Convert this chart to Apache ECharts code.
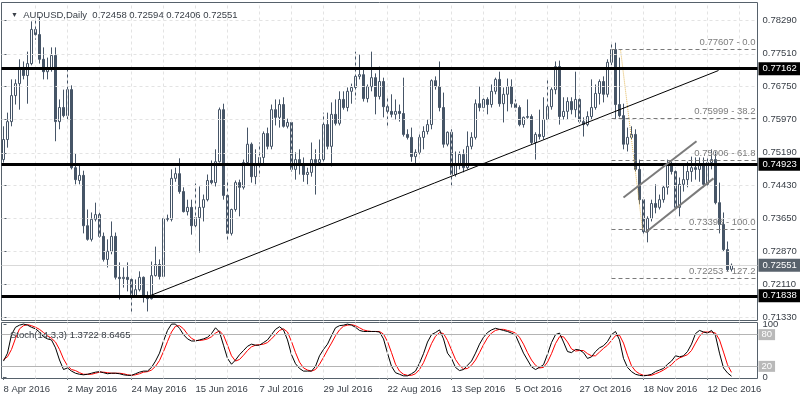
<!DOCTYPE html>
<html><head><meta charset="utf-8">
<script src="https://cdn.jsdelivr.net/npm/echarts@6/dist/echarts.min.js"></script>
<style>html,body{margin:0;padding:0;background:#fff}#c{width:800px;height:400px}</style>
</head><body><div id="c"></div>
<script>
// ---------- data ----------
const totalSlots = 189; // trading-day slots on the time axis (incl. empty space at right)
const tickLabels = ['8 Apr 2016','2 May 2016','24 May 2016','15 Jun 2016','7 Jul 2016','29 Jul 2016','22 Aug 2016','13 Sep 2016','5 Oct 2016','27 Oct 2016','18 Nov 2016','12 Dec 2016'];
const priceTicks = [0.71330,0.72110,0.72870,0.73650,0.74430,0.75190,0.75970,0.76750,0.77510,0.78290];

const opens = [0.7503,0.7550,0.7592,0.7653,0.7681,0.7719,0.7700,0.7728,0.7808,0.7796,0.7738,0.7709,0.7714,0.7747,0.7592,0.7625,0.7606,0.7667,0.7484,0.7454,
0.7466,0.7348,0.7316,0.7363,0.7374,0.7323,0.7269,0.7288,0.7323,0.7227,0.7224,0.7227,0.7222,0.7182,0.7198,0.7227,0.7182,0.7177,0.7231,0.7257,
0.7229,0.7365,0.7363,0.7459,0.7470,0.7428,0.7381,0.7391,0.7348,0.7367,0.7391,0.7409,0.7454,0.7449,0.7498,0.7620,0.7419,0.7330,0.7386,0.7449,
0.7438,0.7496,0.7539,0.7463,0.7489,0.7508,0.7564,0.7534,0.7620,0.7602,0.7632,0.7581,0.7590,0.7480,0.7503,0.7489,0.7468,0.7473,0.7503,0.7496,
0.7503,0.7585,0.7534,0.7609,0.7588,0.7644,0.7625,0.7663,0.7672,0.7698,0.7702,0.7646,0.7674,0.7695,0.7651,0.7686,0.7627,0.7616,0.7609,0.7616,
0.7611,0.7562,0.7555,0.7510,0.7520,0.7555,0.7569,0.7585,0.7688,0.7674,0.7625,0.7539,0.7567,0.7468,0.7491,0.7515,0.7484,0.7534,0.7555,0.7634,
0.7625,0.7644,0.7632,0.7663,0.7691,0.7634,0.7656,0.7674,0.7634,0.7625,0.7585,0.7602,0.7604,0.7543,0.7562,0.7557,0.7597,0.7627,0.7667,0.7721,
0.7604,0.7616,0.7639,0.7620,0.7644,0.7592,0.7585,0.7604,0.7625,0.7658,0.7686,0.7656,0.7731,0.7761,0.7632,0.7606,0.7539,0.7555,0.7562,0.7480,
0.7409,0.7334,0.7365,0.7400,0.7391,0.7409,0.7438,0.7491,0.7475,0.7391,0.7445,0.7456,0.7475,0.7484,0.7480,0.7491,0.7445,0.7496,0.7503,0.7402,
0.7351,0.7292,0.72458];
const highs = [0.7581,0.7613,0.7691,0.7691,0.7738,0.7733,0.7756,0.7827,0.7829,0.7838,0.7766,0.7742,0.7766,0.7766,0.7644,0.7667,0.7719,0.7677,0.7517,0.7491,
0.7477,0.7386,0.7379,0.7402,0.7379,0.7332,0.7316,0.7358,0.7332,0.7262,0.7250,0.7262,0.7229,0.7222,0.7241,0.7229,0.7194,0.7264,0.7299,0.7269,
0.7367,0.7374,0.7480,0.7484,0.7506,0.7438,0.7409,0.7409,0.7447,0.7440,0.7421,0.7468,0.7501,0.7527,0.7625,0.7634,0.7456,0.7388,0.7454,0.7456,
0.7503,0.7578,0.7543,0.7527,0.7543,0.7569,0.7578,0.7632,0.7644,0.7644,0.7649,0.7599,0.7595,0.7520,0.7527,0.7508,0.7484,0.7543,0.7527,0.7550,
0.7613,0.7613,0.7637,0.7644,0.7663,0.7663,0.7672,0.7681,0.7756,0.7749,0.7714,0.7679,0.7756,0.7705,0.7721,0.7695,0.7649,0.7656,0.7644,0.7632,
0.7695,0.7574,0.7578,0.7527,0.7567,0.7581,0.7597,0.7691,0.7698,0.7733,0.7660,0.7569,0.7574,0.7522,0.7522,0.7527,0.7569,0.7567,0.7644,0.7674,
0.7653,0.7649,0.7679,0.7695,0.7709,0.7672,0.7693,0.7691,0.7644,0.7630,0.7604,0.7644,0.7609,0.7567,0.7620,0.7649,0.7693,0.7672,0.7733,0.7735,
0.7649,0.7649,0.7649,0.7709,0.7653,0.7602,0.7616,0.7691,0.7679,0.7691,0.7698,0.7738,0.7777,0.7777,0.7742,0.7634,0.7578,0.7581,0.7574,0.7503,
0.7414,0.7370,0.7409,0.7445,0.7421,0.7442,0.7503,0.7498,0.7484,0.7461,0.7491,0.7498,0.7510,0.7508,0.7508,0.7508,0.7508,0.7527,0.7522,0.7449,
0.7379,0.7311,0.72594];
const lows = [0.7496,0.7531,0.7581,0.7632,0.7620,0.7691,0.7634,0.7724,0.7784,0.7728,0.7691,0.7691,0.7709,0.7546,0.7574,0.7602,0.7597,0.7480,0.7445,0.7445,
0.7330,0.7313,0.7311,0.7358,0.7320,0.7264,0.7250,0.7281,0.7222,0.7175,0.7203,0.7194,0.7145,0.7180,0.7194,0.7168,0.7147,0.7175,0.7229,0.7222,
0.7227,0.7358,0.7358,0.7451,0.7423,0.7379,0.7372,0.7327,0.7344,0.7285,0.7358,0.7405,0.7445,0.7440,0.7496,0.7409,0.7309,0.7325,0.7381,0.7370,
0.7433,0.7491,0.7449,0.7445,0.7463,0.7491,0.7527,0.7527,0.7583,0.7578,0.7578,0.7576,0.7475,0.7456,0.7468,0.7451,0.7445,0.7463,0.7421,0.7489,
0.7496,0.7527,0.7487,0.7583,0.7583,0.7620,0.7616,0.7634,0.7644,0.7691,0.7639,0.7637,0.7663,0.7609,0.7644,0.7602,0.7581,0.7602,0.7597,0.7592,
0.7557,0.7550,0.7498,0.7491,0.7515,0.7527,0.7562,0.7574,0.7667,0.7616,0.7531,0.7534,0.7440,0.7463,0.7480,0.7473,0.7480,0.7527,0.7550,0.7616,
0.7616,0.7609,0.7625,0.7656,0.7627,0.7590,0.7616,0.7625,0.7616,0.7581,0.7578,0.7599,0.7539,0.7503,0.7550,0.7550,0.7592,0.7620,0.7656,0.7585,
0.7597,0.7597,0.7609,0.7602,0.7588,0.7557,0.7581,0.7597,0.7620,0.7632,0.7637,0.7649,0.7724,0.7597,0.7602,0.7527,0.7522,0.7550,0.7475,0.7398,
0.7327,0.7309,0.7358,0.7377,0.7386,0.7402,0.7421,0.7468,0.7386,0.7370,0.7428,0.7438,0.7451,0.7456,0.7451,0.7438,0.7440,0.7480,0.7398,0.7330,
0.7288,0.7241,0.72406];
const closes = [0.7550,0.7592,0.7653,0.7681,0.7719,0.7700,0.7728,0.7808,0.7796,0.7738,0.7709,0.7714,0.7747,0.7592,0.7625,0.7606,0.7667,0.7484,0.7456,0.7466,
0.7348,0.7316,0.7363,0.7374,0.7323,0.7269,0.7288,0.7323,0.7227,0.7224,0.7227,0.7222,0.7182,0.7198,0.7227,0.7182,0.7177,0.7231,0.7257,0.7229,
0.7365,0.7363,0.7459,0.7470,0.7428,0.7381,0.7391,0.7348,0.7367,0.7391,0.7409,0.7454,0.7449,0.7498,0.7620,0.7419,0.7330,0.7386,0.7449,0.7438,
0.7496,0.7539,0.7463,0.7489,0.7508,0.7564,0.7534,0.7620,0.7602,0.7632,0.7581,0.7590,0.7480,0.7503,0.7489,0.7468,0.7473,0.7503,0.7496,0.7503,
0.7585,0.7534,0.7609,0.7588,0.7644,0.7625,0.7663,0.7672,0.7698,0.7702,0.7646,0.7674,0.7695,0.7651,0.7686,0.7627,0.7616,0.7609,0.7616,0.7611,
0.7562,0.7555,0.7510,0.7520,0.7555,0.7569,0.7585,0.7688,0.7674,0.7625,0.7539,0.7567,0.7468,0.7491,0.7515,0.7484,0.7534,0.7555,0.7634,0.7625,
0.7644,0.7632,0.7663,0.7691,0.7634,0.7656,0.7674,0.7634,0.7625,0.7585,0.7602,0.7604,0.7543,0.7562,0.7557,0.7597,0.7627,0.7667,0.7721,0.7604,
0.7616,0.7639,0.7620,0.7644,0.7592,0.7585,0.7604,0.7625,0.7658,0.7686,0.7656,0.7731,0.7761,0.7632,0.7606,0.7539,0.7555,0.7562,0.7480,0.7409,
0.7334,0.7365,0.7400,0.7391,0.7409,0.7438,0.7491,0.7475,0.7391,0.7445,0.7456,0.7475,0.7484,0.7480,0.7491,0.7445,0.7496,0.7503,0.7402,0.7351,
0.7292,0.7245,0.72551];

const stochK = [30,45,80,94,98,100,98,94,91,85,76,72,70,55,32,14,17,11,7,5,4,5,7,9,10,8,6,7,7,6,4,3,3,6,9,11,11,18,30,45,
68,88,100,100,92,80,72,68,68,70,72,75,82,93,85,60,35,24,32,42,50,58,62,60,60,65,70,80,90,95,89,70,42,25,16,11,11,11,20,40,
52,62,78,93,97,98,100,98,94,88,86,86,86,86,85,72,45,20,8,5,2,2,6,11,26,44,66,80,84,89,72,45,35,18,12,14,22,30,45,62,
75,84,89,92,90,88,86,83,79,62,45,32,19,14,18,23,43,65,80,83,66,48,46,52,51,46,35,38,48,55,59,67,80,86,70,35,18,10,5,3,
2,3,5,10,13,16,24,30,40,38,40,48,62,82,88,85,83,88,78,45,17,7.6,1.3722];
const stochD = [33,38,52,73,91,97,99,97,94,90,84,78,73,66,52,34,21,14,12,8,5,5,5,7,9,9,8,7,7,7,6,4,3,4,6,9,10,13,20,31,
48,67,85,96,97,91,81,73,69,69,70,72,76,83,87,79,60,40,30,33,41,50,57,60,61,62,65,72,80,88,91,85,67,46,28,17,13,11,14,24,
37,51,64,78,89,96,98,99,97,93,89,87,86,86,86,81,67,46,24,11,5,3,3,6,14,27,45,63,77,84,82,69,51,33,22,15,16,22,32,46,
61,74,83,88,90,90,88,86,83,75,62,46,32,22,17,18,28,44,63,76,76,66,53,49,50,50,44,40,40,47,54,60,69,78,79,64,41,21,11,6,
3,3,3,6,9,13,18,23,31,36,39,42,50,64,77,85,85,85,83,70,47,23,8.6465];
const stochLevels = [80, 20];

const levelLines = [0.77162, 0.74923, 0.71838];
const bidPrice = 0.72551;
// trend / channel lines: [bar index, price]
const trendLine = [[36.75, 0.71844], [178.75, 0.77118]];
const channelUpper = [[155, 0.7414], [173.25, 0.7546]];
const channelLower = [[160.5, 0.7332], [177.5, 0.7459]];
const fibDiagonal = [[154.25, 0.77607], [159.75, 0.73398]];
const fibFromBar = 152;
const fibPrices = [0.77607, 0.75999, 0.75006, 0.73398, 0.72253];
const fibNames = ['0.77607 - 0.0', '0.75999 - 38.2', '0.75006 - 61.8', '0.73398 - 100.0', '0.72253 - 127.2'];

// ---------- build ----------
const months = ['Jan','Feb','Mar','Apr','May','Jun','Jul','Aug','Sep','Oct','Nov','Dec'];
const dates = [];
(function(){ const d = new Date(Date.UTC(2016,3,8));
  while (dates.length < totalSlots) { const w = d.getUTCDay();
    if (w !== 0 && w !== 6) dates.push(d.getUTCDate()+' '+months[d.getUTCMonth()]+' '+d.getUTCFullYear());
    d.setUTCDate(d.getUTCDate()+1); } })();

const n = opens.length, last = n - 1;
const candleData = opens.map((o,i)=>[o, closes[i], lows[i], highs[i]]);
const FONT = '"Liberation Sans", Arial, sans-serif';
const TXT = '#3a4048';
const showTick = (idx, val) => tickLabels.indexOf(val) >= 0;

const vGrid = []; for (let i = 8; i < totalSlots; i += 8) vGrid.push({xAxis: i});
const dashed = {color:'#e3e3e3', type:[3,3], width:1};

const chart = echarts.init(document.getElementById('c'), null, {width:800, height:400});
chart.setOption({
  animation: false,
  backgroundColor: '#ffffff',
  textStyle: {fontFamily: FONT},
  title: [
    {text: '{t|▼}  AUDUSD,Daily  ' + [opens[last],highs[last],lows[last],closes[last]].map(v=>v.toFixed(5)).join(' '),
     left: 6, top: 5, textStyle: {fontSize: 9.5, fontWeight: 'normal', color: TXT, fontFamily: FONT, rich: {t: {fontSize: 7, color: TXT}}}},
    {text: 'Stoch(14,3,3) ' + stochK[last].toFixed(4) + ' ' + stochD[last].toFixed(4),
     left: 5, top: 325, textStyle: {fontSize: 9.5, fontWeight: 'normal', color: TXT, fontFamily: FONT}}
  ],
  grid: [
    {left: 1.5, right: 42.5, top: 2.5, height: 318, show: true, borderColor: '#56616b', borderWidth: 1},
    {left: 1.5, right: 42.5, top: 322.5, height: 56, show: true, borderColor: '#56616b', borderWidth: 1}
  ],
  xAxis: [
    {type: 'category', gridIndex: 0, data: dates, boundaryGap: true, axisLine: {show: false}, axisTick: {show: false}, axisLabel: {show: false}, splitLine: {show: false}},
    {type: 'category', gridIndex: 1, data: dates, boundaryGap: true, axisLine: {show: false},
     axisTick: {show: true, interval: showTick, alignWithLabel: true, length: 3, lineStyle: {color: '#56616b'}},
     axisLabel: {show: true, interval: showTick, align: 'left', margin: 6, fontSize: 9.5, color: TXT, fontFamily: FONT},
     splitLine: {show: false}},
    {type: 'value', gridIndex: 0, min: -0.5, max: totalSlots - 0.5, show: false},
    {type: 'value', gridIndex: 1, min: -0.5, max: totalSlots - 0.5, show: false}
  ],
  yAxis: [
    {type: 'value', gridIndex: 0, position: 'right', min: 0.71258, max: 0.78712, splitLine: {show: false}, axisLine: {show: false},
     axisTick: {show: true, customValues: priceTicks, length: 3, lineStyle: {color: '#56616b'}},
     axisLabel: {customValues: priceTicks, formatter: v => v.toFixed(5), margin: 5, fontSize: 9.5, color: TXT, fontFamily: FONT}},
    {type: 'value', gridIndex: 1, position: 'right', min: -3, max: 103, splitLine: {show: false}, axisLine: {show: false},
     axisTick: {show: true, customValues: [0, 100], length: 3, lineStyle: {color: '#56616b'}},
     axisLabel: {customValues: [0, 100], margin: 5, fontSize: 9.5, color: TXT, fontFamily: FONT}}
  ],
  series: [
    {type: 'line', name: 'grid', xAxisIndex: 2, yAxisIndex: 0, data: [], z: 1, silent: true,
     markLine: {symbol: 'none', silent: true, precision: 6, label: {show: false}, lineStyle: dashed,
       data: vGrid.concat(priceTicks.map(p => ({yAxis: p}))).concat([
         {yAxis: bidPrice, name: bidPrice.toFixed(5), lineStyle: {type: 'solid', color: '#d9d9d9', width: 1},
          label: {show: true, position: 'end', formatter: '{b}', distance: 1, backgroundColor: '#58626c', color: '#fff', padding: [2,4,1,4], fontSize: 9.5, fontFamily: FONT}}
       ])}},
    {type: 'candlestick', name: 'AUDUSD', xAxisIndex: 0, yAxisIndex: 0, data: candleData, barWidth: 2, z: 3,
     itemStyle: {color: '#ffffff', color0: '#465567', borderColor: '#465567', borderColor0: '#465567', borderWidth: 1}},
    {type: 'line', name: 'levels', xAxisIndex: 2, yAxisIndex: 0, data: [], z: 5, silent: true,
     markLine: {symbol: 'none', silent: true, precision: 6, lineStyle: {color: '#000', width: 3, type: 'solid'},
       label: {show: true, position: 'end', formatter: '{b}', distance: 1, backgroundColor: '#000', color: '#fff', padding: [2,4,1,4], fontSize: 9.5, fontFamily: FONT},
       data: levelLines.map(v => ({yAxis: v, name: v.toFixed(5)}))}},
    {type: 'line', name: 'fib', xAxisIndex: 2, yAxisIndex: 0, data: [], z: 4, silent: true,
     markLine: {symbol: 'none', silent: true, precision: 6, lineStyle: {color: '#7a7a7a', width: 1, type: [4,3]},
       label: {show: true, position: 'insideEndTop', formatter: '{b}', distance: [2, 2], color: '#7d7d7d', fontSize: 9.5, fontFamily: FONT},
       data: fibPrices.map((p,i) => [{coord: [fibFromBar, p], name: fibNames[i]}, {coord: [totalSlots - 0.5, p]}])}},
    {type: 'line', name: 'trend', xAxisIndex: 2, yAxisIndex: 0, data: trendLine, symbol: 'none', z: 6, silent: true,
     lineStyle: {color: '#000', width: 1}},
    {type: 'line', name: 'chanU', xAxisIndex: 2, yAxisIndex: 0, data: channelUpper, symbol: 'none', z: 6, silent: true,
     lineStyle: {color: '#7b7b7b', width: 2}},
    {type: 'line', name: 'chanL', xAxisIndex: 2, yAxisIndex: 0, data: channelLower, symbol: 'none', z: 6, silent: true,
     lineStyle: {color: '#7b7b7b', width: 2}},
    {type: 'line', name: 'fibDiag', xAxisIndex: 2, yAxisIndex: 0, data: fibDiagonal, symbol: 'none', z: 4, silent: true,
     lineStyle: {color: '#e3b95a', width: 1, type: 'dotted'}},
    {type: 'line', name: 'stochGrid', xAxisIndex: 3, yAxisIndex: 1, data: [], z: 1, silent: true,
     markLine: {symbol: 'none', silent: true, precision: 6, label: {show: false}, lineStyle: dashed,
       data: vGrid.concat(stochLevels.map(v => ({yAxis: v, name: String(v), lineStyle: {type: 'solid', color: '#b4b4b4', width: 1},
         label: {show: true, position: 'end', formatter: '{b}', distance: 1, backgroundColor: '#b9b9b9', color: '#fff', padding: [1,3,0,3], fontSize: 9.5, fontFamily: FONT}})))}},
    {type: 'line', name: '%K', xAxisIndex: 1, yAxisIndex: 1, data: stochK, symbol: 'none', z: 4, silent: true,
     lineStyle: {color: '#000', width: 1}},
    {type: 'line', name: '%D', xAxisIndex: 1, yAxisIndex: 1, data: stochD, symbol: 'none', z: 3, silent: true,
     lineStyle: {color: '#ff0000', width: 1}}
  ]
});
</script></body></html>
